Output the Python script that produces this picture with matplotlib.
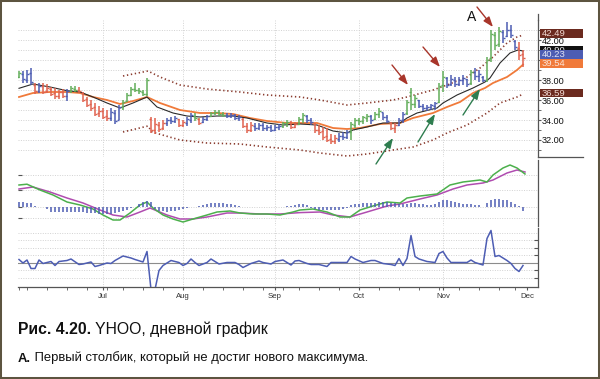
import matplotlib
matplotlib.use("Agg")
import matplotlib.pyplot as plt
import numpy as np
import pandas as pd
from matplotlib.patches import Rectangle
from matplotlib.lines import Line2D
from matplotlib.transforms import Bbox

plt.rcParams['font.family'] = ['Liberation Sans', 'DejaVu Sans']

W, H = 600, 379

# --- data (YHOO, daily, Jun 2 - Nov 30 2005) ---
holidays = ['2005-07-04', '2005-09-05', '2005-11-24']

impulse = list("gbbbrbrrrr" "rrbggrrrrr" "rrrbbbgggg" "gggrrrrbbb" "rrbbgrbbgg"
               "ggbbbbrrrb" "bbbbbbggrr" "ggbbrrrrrr" "bbbgggggbg" "gbbrrbbggg"
               "bbbbbggbbb" "bbbgbbbggg" "gbbbbrr")

highs = [38.9, 38.9, 39.0, 39.2, 37.7, 37.7, 37.7, 37.6, 37.3, 37.2,
         37.0, 37.1, 37.1, 37.4, 37.4, 37.3, 36.8, 36.3, 36.0, 35.7,
         35.4, 35.2, 35.0, 35.2, 35.0, 35.5, 36.0, 36.7, 37.3, 37.7,
         37.2, 37.0, 38.2, 34.3, 34.2, 33.8, 34.0, 34.2, 34.3, 34.4,
         34.1, 34.0, 34.3, 34.7, 34.7, 34.2, 34.3, 34.5, 34.8, 35.0,
         35.0, 34.8, 34.7, 34.7, 34.6, 34.5, 34.2, 33.7, 33.8, 33.7,
         33.7, 33.7, 33.5, 33.5, 33.5, 33.6, 33.8, 34.0, 33.9, 33.8,
         34.3, 34.7, 34.5, 34.2, 33.7, 33.5, 33.3, 33.2, 32.6, 32.5,
         32.7, 32.8, 33.0, 33.8, 34.2, 34.2, 34.4, 34.6, 34.5, 34.8,
         35.2, 34.7, 34.5, 33.8, 33.7, 34.2, 34.8, 36.0, 37.2, 36.5,
         36.0, 35.6, 35.5, 35.6, 35.8, 37.7, 38.9, 38.3, 38.5, 38.3,
         38.3, 38.5, 38.1, 39.0, 39.2, 39.0, 38.4, 40.3, 43.0, 42.8,
         43.3, 43.0, 43.8, 43.5, 42.0, 41.8, 41.0]
lows = [38.2, 37.7, 37.7, 37.5, 36.6, 36.7, 36.6, 36.7, 36.4, 36.1,
        36.1, 36.2, 35.9, 36.7, 36.8, 36.7, 35.8, 35.3, 34.9, 34.4,
        34.3, 34.1, 33.9, 33.9, 33.6, 34.0, 35.0, 35.8, 36.4, 36.8,
        36.6, 36.4, 36.4, 32.7, 32.6, 32.8, 33.0, 33.4, 33.6, 33.7,
        33.3, 33.3, 33.4, 33.7, 33.9, 33.5, 33.7, 33.9, 34.3, 34.5,
        34.4, 34.3, 34.2, 34.2, 34.0, 33.9, 33.2, 32.7, 32.8, 32.9,
        33.0, 32.9, 32.9, 32.8, 32.9, 33.0, 33.2, 33.3, 33.1, 33.2,
        33.5, 33.7, 33.7, 33.5, 32.7, 32.5, 32.0, 31.8, 31.6, 31.6,
        31.8, 32.0, 32.1, 32.0, 33.2, 33.5, 33.6, 33.8, 33.6, 34.0,
        34.2, 34.0, 33.7, 33.0, 32.7, 33.4, 33.7, 34.5, 35.0, 35.2,
        35.2, 34.9, 34.9, 35.0, 35.0, 35.7, 36.8, 37.2, 37.4, 37.3,
        37.4, 37.5, 37.3, 37.5, 38.0, 37.8, 37.8, 37.8, 39.8, 41.0,
        41.3, 41.7, 42.3, 42.2, 41.0, 40.0, 39.3]
opens = [38.3, 38.6, 38.0, 38.7, 37.5, 36.9, 37.4, 36.9, 37.1, 36.7,
         36.4, 36.8, 36.4, 36.9, 37.1, 37.0, 36.7, 36.1, 35.6, 35.3,
         34.7, 34.9, 34.4, 34.2, 34.7, 34.0, 35.3, 35.9, 36.5, 37.1,
         37.0, 36.8, 36.6, 34.1, 33.0, 33.5, 33.2, 33.7, 34.0, 33.9,
         34.1, 33.5, 33.7, 34.0, 34.4, 34.1, 33.8, 34.1, 34.4, 34.7,
         34.8, 34.6, 34.5, 34.4, 34.5, 34.2, 34.1, 33.4, 33.0, 33.4,
         33.2, 33.5, 33.2, 33.3, 33.0, 33.3, 33.4, 33.7, 33.8, 33.3,
         33.6, 34.1, 34.4, 34.0, 33.6, 33.0, 32.9, 32.4, 32.1, 31.9,
         32.1, 32.4, 32.3, 32.8, 33.5, 34.0, 33.9, 34.2, 34.4, 34.1,
         34.6, 34.8, 34.3, 33.7, 33.2, 33.5, 34.0, 34.7, 36.8, 35.6,
         36.0, 35.4, 35.2, 35.3, 35.4, 35.8, 37.5, 38.2, 37.6, 38.0,
         37.6, 38.0, 38.1, 37.7, 38.8, 38.4, 38.3, 38.0, 40.2, 42.5,
         41.6, 42.8, 42.4, 43.0, 41.9, 41.2, 40.6]
closes = [38.7, 38.1, 38.6, 37.8, 36.9, 37.4, 36.8, 37.2, 36.6, 36.4,
          36.8, 36.4, 36.9, 37.2, 37.0, 36.9, 36.0, 35.5, 35.2, 34.6,
          34.9, 34.3, 34.2, 34.8, 33.9, 35.3, 35.8, 36.5, 37.1, 37.0,
          36.9, 36.6, 38.0, 33.0, 33.6, 33.1, 33.7, 34.0, 33.9, 34.2,
          33.5, 33.8, 34.1, 34.5, 34.2, 33.7, 34.1, 34.4, 34.7, 34.8,
          34.6, 34.5, 34.4, 34.5, 34.2, 34.3, 33.4, 33.0, 33.5, 33.2,
          33.5, 33.2, 33.3, 33.0, 33.3, 33.4, 33.7, 33.8, 33.3, 33.6,
          34.1, 34.5, 34.0, 33.8, 33.0, 32.8, 32.3, 32.0, 31.9, 32.2,
          32.4, 32.3, 32.8, 33.6, 34.0, 33.9, 34.3, 34.4, 34.0, 34.6,
          34.9, 34.3, 33.9, 33.2, 33.5, 34.0, 34.6, 35.8, 35.6, 36.2,
          35.4, 35.2, 35.3, 35.5, 35.7, 37.4, 38.3, 37.5, 38.1, 37.6,
          38.0, 38.2, 37.6, 38.8, 38.4, 38.6, 38.0, 40.0, 42.6, 41.5,
          42.9, 42.2, 43.0, 42.5, 41.3, 40.5, 40.23]

# moving averages, read at vertices (bar index, price)
fast_x = [0, 3.5, 7.75, 12, 15.25, 18.5, 22, 25.25, 28.5, 32, 34.5, 38.5, 42, 45.25,
          49.5, 53.5, 57, 62, 66, 70.25, 74.5, 78.5, 82, 83.5, 87, 91, 95.25, 97,
          99.5, 104.5, 106, 109.5, 113.5, 116.5, 117.75, 120.25, 122.75, 124.75, 126]
fast_y = [37.17, 37.6, 37.3, 36.93, 36.8, 36.3, 35.7, 35.2, 35.7, 36.3, 35.3, 34.7, 34.4,
          34.3, 34.4, 34.4, 34.2, 33.7, 33.5, 33.6, 33.5, 32.9, 32.7, 33.0, 33.3, 33.7,
          33.7, 34.2, 34.7, 35.2, 35.7, 36.5, 37.2, 37.8, 38.2, 39.7, 40.7, 41.0, 40.9]
slow_x = [0, 3.5, 7.75, 12, 15.25, 18.5, 22, 25.25, 28.5, 32, 35.25, 40.25, 45.25, 49.5,
          53.5, 57.75, 62, 67, 70.25, 74.5, 78.5, 82, 85.25, 90.25, 95.25, 98.5, 103.5,
          107, 110.25, 113.5, 116.5, 118.5, 122, 124.5, 126]
slow_y = [36.3, 36.7, 36.8, 36.8, 36.7, 36.3, 36.0, 35.6, 35.9, 36.3, 35.7, 35.0, 34.7,
          34.7, 34.6, 34.2, 33.9, 33.7, 33.7, 33.7, 33.2, 33.1, 33.2, 33.6, 33.7, 34.2,
          34.7, 35.3, 35.8, 36.7, 37.2, 37.7, 38.3, 39.0, 39.54]

# channel
upper_x = [26, 32.25, 35.25, 40.25, 47, 55.25, 62, 70.25, 75.25, 82, 87, 93.5, 97,
           103.5, 107, 112, 115.25, 118.5, 122, 124.5, 126]
upper_y = [38.4, 38.9, 38.3, 37.5, 37.1, 36.8, 36.5, 36.3, 36.0, 35.5, 35.7, 36.0, 36.3,
           37.0, 37.5, 38.3, 39.2, 40.3, 41.7, 42.3, 42.49]
lower_x = [26, 32.25, 33.25, 40.25, 47, 55.25, 62, 70.25, 75.25, 82, 87, 93.5, 98.5,
           103.5, 107, 112, 117, 120.25, 124.5, 126]
lower_y = [32.8, 33.4, 32.8, 32.0, 31.7, 31.6, 31.3, 31.0, 30.7, 30.4, 30.6, 31.0, 31.3,
           32.0, 32.7, 33.5, 34.7, 35.7, 36.3, 36.59]

# MACD lines and histogram
macd_x = [0, 2, 5.25, 8.5, 12, 15.25, 18.5, 21, 23.5, 25.25, 27.75, 30.25, 32, 33.5, 36,
          38.5, 41, 43.5, 47, 49.5, 52.75, 55.25, 58.5, 62, 65.25, 68.5, 70.25, 73.5, 77,
          80.25, 82.75, 85.25, 88.5, 92, 95.25, 97, 100.25, 104.5, 107.75, 111, 115.25,
          117, 118.5, 121, 122.75, 124.5, 126.5]
macd_y = [1.10, 1.14, 0.85, 0.60, 0.25, 0.10, -0.10, -0.40, -0.65, -0.65, -0.30, 0.10,
          0.25, -0.05, -0.40, -0.60, -0.75, -0.60, -0.40, -0.25, -0.20, -0.30, -0.35,
          -0.35, -0.40, -0.25, -0.15, -0.10, -0.25, -0.50, -0.50, -0.15, 0.05, 0.25, 0.20,
          0.45, 0.55, 0.65, 1.10, 1.25, 1.35, 1.25, 1.60, 1.95, 2.10, 1.95, 1.65]
signal_x = [0, 3.5, 7.75, 12, 16, 20.25, 23.5, 27, 30.25, 32.75, 37, 40.25, 43.5, 47, 52,
            55.25, 60.25, 65.25, 70.25, 75.25, 78.5, 82.75, 87, 92, 95.25, 100.25, 104.5,
            108.5, 112, 116, 118.5, 122, 124.5, 126.5]
signal_y = [0.90, 1.00, 0.75, 0.45, 0.20, -0.15, -0.40, -0.50, -0.25, -0.05, -0.40, -0.60,
            -0.60, -0.50, -0.30, -0.30, -0.35, -0.35, -0.28, -0.25, -0.40, -0.50, -0.25,
            0.05, 0.15, 0.40, 0.60, 0.90, 1.10, 1.20, 1.35, 1.70, 1.85, 1.75]
hist = [0.5, 0.5, 0.45, 0.4, 0.1, 0.05, 0.05, -0.2, -0.45, -0.5,
        -0.5, -0.5, -0.5, -0.45, -0.45, -0.45, -0.5, -0.55, -0.6, -0.6,
        -0.65, -0.7, -0.7, -0.65, -0.6, -0.5, -0.35, -0.25, -0.1, 0.05,
        0.35, 0.5, 0.6, 0.55, -0.2, -0.35, -0.4, -0.45, -0.4, -0.35,
        -0.3, -0.2, -0.1, 0.05, 0.05, 0.1, 0.25, 0.35, 0.4, 0.45,
        0.45, 0.4, 0.35, 0.3, 0.2, 0.1, 0.05, 0.05, 0.05, 0.05,
        0.05, 0.05, 0.05, 0.05, 0.05, 0.05, 0.05, 0.1, 0.15, 0.2,
        0.3, 0.3, 0.2, -0.1, -0.2, -0.25, -0.3, -0.3, -0.3, -0.3,
        -0.25, -0.2, -0.1, 0.2, 0.3, 0.35, 0.4, 0.45, 0.45, 0.45,
        0.5, 0.5, 0.5, 0.45, 0.4, 0.35, 0.3, 0.35, 0.45, 0.4,
        0.35, 0.3, 0.25, 0.25, 0.3, 0.55, 0.7, 0.7, 0.65, 0.55,
        0.45, 0.35, 0.3, 0.3, 0.25, 0.2, 0.05, 0.4, 0.7, 0.8,
        0.8, 0.75, 0.7, 0.55, 0.3, 0.15, -0.4]

# force index, read at vertices
force_x = [0, 1, 2, 3, 4, 5, 6, 8, 9, 10, 12, 13, 15, 16, 18, 19, 20, 22, 23, 24, 26,
           28, 29, 31, 32, 33, 34, 35, 36, 38, 40, 41, 42, 43, 44, 45, 47, 48, 50, 52,
           54, 55, 56, 58, 60, 61, 63, 64, 66, 68, 69, 70, 72, 73, 75, 77, 78, 80, 82,
           83, 84, 86, 88, 89, 91, 93, 94, 95, 96, 97, 98, 99, 100, 102, 104, 105, 106,
           107, 108, 110, 112, 113, 114, 116, 117, 118, 119, 120, 122, 123, 124, 125, 126]
force_y = [3, -0.5, 2.5, -6, -6, 2.5, -1, 1, -3, 1, 2, 3.5, -2, -1.5, 0.5, -4, -3, -0.5,
           -1, 2, 6.5, 4.5, 3, 0.5, 11, -27, -27, -8, -3, 2, 0, -3, -1, 3.5, 0, -3, 0,
           3.5, -1.5, 0, 0, -2, -5, -1, 1.5, 0, -1.5, 1, 2.5, -2.5, 1.5, 2, -1, -2, -2,
           -4, 0, 0, 0, 6, 3.5, 0, 2, 2, -1, -2, -3, 4, -3, 4, 27, 6, 3.5, 1, 0, 9, 11,
           4.5, 0, 0, 0, 2.5, 0, -2.5, 24, 32, 6, 7, 2, -1, -6, -9, -3]

# --- layout helpers ---
days = pd.bdate_range('2005-06-02', '2005-11-30')
days = days[~days.isin(pd.to_datetime(holidays))]
n = len(days)
x = np.arange(n)

month_pos, month_lab = [], []
for i in range(1, n):
    if days[i].month != days[i - 1].month:
        month_pos.append(i)
        month_lab.append(days[i].strftime('%b'))
month_pos.append(n)
month_lab.append('Dec')
week_pos = [i for i in range(n) if i == 0 or days[i].dayofweek < days[i - 1].dayofweek]

fig = plt.figure(figsize=(W / 100, H / 100), dpi=100)


def px_axes(x0, y0, x1, y1):
    return fig.add_axes([x0 / W, 1 - y1 / H, (x1 - x0) / W, (y1 - y0) / H])


ax1 = px_axes(18, 20, 538, 157)
ax2 = px_axes(18, 160, 538, 226)
ax3 = px_axes(18, 228, 538, 287)

grid_kw = dict(color='#d2d2d2', lw=0.7, ls=(0, (1, 1.5)), zorder=0)
for ax in (ax1, ax2, ax3):
    ax.set_facecolor('none')
    ax.set_xlim(-0.25, 129.75)
    for s in ('top', 'left', 'bottom'):
        ax.spines[s].set_visible(False)
    ax.spines['right'].set_color('#555555')
    ax.spines['right'].set_linewidth(0.9)
    ax.yaxis.tick_right()
    ax.set_xticks([])
    for m in month_pos[:-1]:
        ax.axvline(m, **grid_kw)

# main price panel
col = {'g': '#62ad5a', 'b': '#4d5db3', 'r': '#e0624e'}
bar_colors = [col[c] for c in impulse]
ax1.plot(slow_x, slow_y, color='#f07a3a', lw=1.3, zorder=2)
ax1.plot(fast_x, fast_y, color='#2a2a2a', lw=0.8, zorder=2)
ax1.vlines(x, lows, highs, colors=bar_colors, lw=1.1, zorder=3)
ax1.hlines(opens, x - 0.45, x, colors=bar_colors, lw=1.0, zorder=3)
ax1.hlines(closes, x, x + 0.45, colors=bar_colors, lw=1.0, zorder=3)
dots = dict(color='#8a3b2e', lw=1.2, ls=(0, (0.8, 1.6)), zorder=2)
ax1.plot(upper_x, upper_y, **dots)
ax1.plot(lower_x, lower_y, **dots)

ax1.set_ylim(30.3, 44.0)
for v in range(31, 44):
    ax1.axhline(v, **grid_kw)
ax1.set_yticks(np.arange(32, 43, 2))
ax1.set_yticklabels([f'{v:.2f}' for v in np.arange(32, 43, 2)])
ax1.set_yticks(np.arange(31, 44, 2), minor=True)
ax1.tick_params(axis='y', which='both', direction='out', length=2.5, pad=0.5,
                labelsize=6.6, colors='#555555', labelcolor='#111111')
# the price axis line runs a little above the panel
fig.add_artist(Line2D([538 / W, 538 / W], [1 - 14 / H, 1 - 20 / H], color='#555555', lw=0.9))

# arrows (tips in data coords, tails as offsets)
red, green = '#a8352a', '#2e7d4f'
arrows = [((97.25, 37.5), (-16, 20), red), ((105.25, 39.3), (-17, 20), red),
          ((118.5, 43.3), (-16, 20), red), ((93.5, 32.2), (-17, -26), green),
          ((104.0, 34.6), (-17, -28), green), ((115.25, 37.1), (-17, -26), green)]
for tip, (dx, dy), c in arrows:
    ax1.annotate('', xy=tip, xytext=(dx * 0.72, dy * 0.72), textcoords='offset points',
                 arrowprops=dict(arrowstyle='-|>,head_length=0.6,head_width=0.22',
                                 color=c, lw=1.0, mutation_scale=10, shrinkA=0, shrinkB=0),
                 annotation_clip=False, zorder=5)
fig.text(472 / W, 1 - 17 / H, 'A', fontsize=10, ha='center', va='center', color='#111111')

# MACD panel
ax2.set_ylim(-0.95, 2.35)
for v in (-0.55, 0.0, 0.85, 1.6):
    ax2.axhline(v, **grid_kw)
ax2.set_yticks([-0.55, 0.0, 0.85, 1.6])
ax2.set_yticklabels([])
ax2.tick_params(axis='y', direction='in', length=3, colors='#555555')
ax2.plot(signal_x, signal_y, color='#b04cb0', lw=1.1, zorder=3)
ax2.plot(macd_x, macd_y, color='#4cb04c', lw=1.1, zorder=3)
axh = ax2.twinx()
axh.set_facecolor('none')
axh.axis('off')
axh.set_xlim(-0.25, 129.75)
axh.set_ylim(-1.9, 4.7)
axh.vlines(x, 0, hist, colors='#4d5db3', lw=1.1, zorder=2)

# force index panel
ax3.set_ylim(-24.5, 34.5)
for v in (-15, -7.5, 7.5, 15, 22.5, 30):
    ax3.axhline(v, **grid_kw)
ax3.axhline(0, color='#8c8c8c', lw=0.8, zorder=1)
ax3.plot(force_x, force_y, color='#4d5db3', lw=1.1, zorder=3)
ax3.spines['bottom'].set_visible(True)
ax3.spines['bottom'].set_color('#555555')
ax3.spines['bottom'].set_linewidth(0.9)
ax3.set_yticks([-15, -7.5, 7.5, 15, 22.5])
ax3.set_yticklabels([])
ax3.tick_params(axis='y', direction='in', length=3, colors='#555555')
ax3.set_xticks(month_pos)
ax3.set_xticklabels(month_lab)
ax3.set_xticks(week_pos, minor=True)
ax3.tick_params(axis='x', which='both', direction='out', length=2.5, pad=1.5,
                labelsize=5.6, colors='#555555', labelcolor='#333333')

# last-value boxes on the price axis (shift: px up from the value, to stack them)
boxes = [('42.49', 42.49, '#6b2a1f', '#f1d9d2', 1.8),
         ('40.90', 40.90, '#111111', '#e8e8e8', 0.3),
         ('40.23', 40.23, '#4d5db3', '#dfe3f5', 3.2),
         ('39.54', 39.54, '#f07a3a', '#fbe3d5', 1.1),
         ('36.59', 36.59, '#6b2a1f', '#f1d9d2', 0.9)]
for txt, val, fc, tc, shift in boxes:
    yc = ax1.transData.transform((0, val))[1] / fig.dpi * 100 + shift
    fig.patches.append(Rectangle((540 / W, (yc - 4.3) / H), 43 / W, 8.6 / H,
                                 transform=fig.transFigure, fc=fc, ec='none', zorder=2))
    t = fig.text(542 / W, yc / H, txt, fontsize=6.8, color=tc, ha='left', va='center',
                 zorder=3)
    if txt == '40.90':
        # mostly covered by the next box, as in the original
        t.set_clip_box(Bbox.from_extents(540, yc + 0.6, 583, yc + 4.3))
fig.add_artist(Line2D([538 / W, 583 / W], [1 - 157 / H, 1 - 157 / H], color='#555555', lw=0.9))

# caption
r = fig.canvas.get_renderer()
t1 = fig.text(18 / W, 1 - 334 / H, 'Рис. 4.20.', fontsize=11.3, fontweight='bold',
              ha='left', va='baseline', color='#111111')
w1 = t1.get_window_extent(r).width
fig.text((18 + w1) / W, 1 - 334 / H, ' YHOO, дневной график', fontsize=11.3,
         ha='left', va='baseline', color='#111111')
t2 = fig.text(18 / W, 1 - 361.5 / H, 'А.', fontsize=9.4, fontweight='bold',
              ha='left', va='baseline', color='#111111')
w2 = t2.get_window_extent(r).width
fig.text((18 + w2) / W, 1 - 361.5 / H, ' Первый столбик, который не достиг нового максимума.',
         fontsize=9.4, ha='left', va='baseline', color='#111111')

# outer frame
fig.patches.append(Rectangle((0, 0), 1, 1, transform=fig.transFigure, fill=False,
                             ec='#5d5440', lw=2.9, zorder=10))

fig.savefig('out.png', dpi=100)
